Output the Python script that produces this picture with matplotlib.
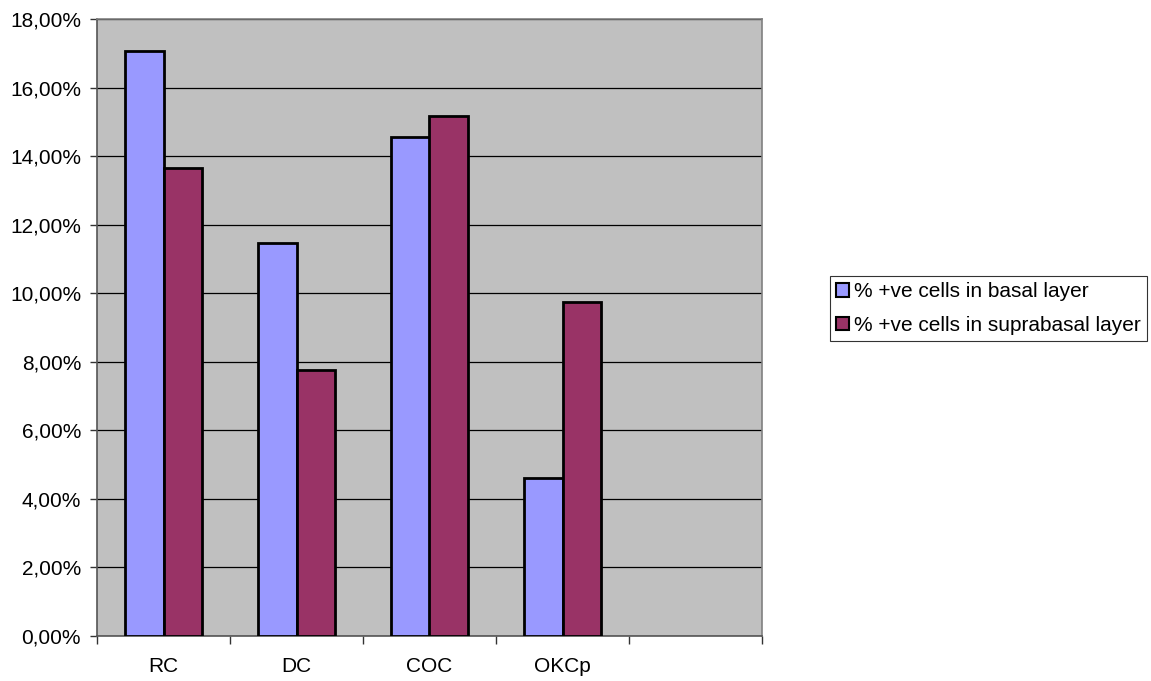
import matplotlib
matplotlib.use("Agg")
import matplotlib.pyplot as plt
import numpy as np
from matplotlib.ticker import FuncFormatter, MultipleLocator, FixedLocator

plt.rcParams['font.family'] = ['Liberation Sans', 'DejaVu Sans']

categories = ["RC", "DC", "COC", "OKCp", ""]
basal = [17.07, 11.46, 14.56, 4.61, np.nan]
suprabasal = [13.65, 7.76, 15.17, 9.74, np.nan]
series_labels = ["% +ve cells in basal layer", "% +ve cells in suprabasal layer"]
colors = ["#9999FF", "#993366"]

fig = plt.figure(figsize=(11.51, 6.81), dpi=100)
ax = fig.add_axes([97/1151, 1-636/681, (762-97)/1151, (636-19)/681])
ax.set_facecolor("#C0C0C0")

x = np.arange(len(categories))
w = 0.286
ax.bar(x - w/2, basal, w, color=colors[0], edgecolor="black", linewidth=2, label=series_labels[0], zorder=3)
ax.bar(x + w/2, suprabasal, w, color=colors[1], edgecolor="black", linewidth=2, label=series_labels[1], zorder=3)

ax.set_xlim(-0.5, len(categories) - 0.5)
ax.set_ylim(0, 18)
ax.yaxis.set_major_locator(MultipleLocator(2))
ax.yaxis.set_major_formatter(FuncFormatter(lambda v, p: f"{v:.2f}%".replace(".", ",")))
ax.grid(axis="y", color="black", linewidth=0.9, zorder=1)
ax.set_axisbelow(True)

ax.xaxis.set_major_locator(FixedLocator(np.arange(-0.5, len(categories), 1.0)))
ax.xaxis.set_major_formatter(FuncFormatter(lambda v, p: ""))
ax.set_xticks(x, minor=True)
ax.set_xticklabels(categories, minor=True)
ax.tick_params(axis="x", which="minor", length=0, pad=15, labelsize=15)
ax.tick_params(axis="x", which="major", length=6, width=1, color="#333333", direction="out")
ax.tick_params(axis="y", length=5, width=1, color="#333333", direction="out", labelsize=15, pad=6.5)

for s in ["left", "bottom"]:
    ax.spines[s].set_color("#555555")
    ax.spines[s].set_linewidth(1.2)
for s in ["top", "right"]:
    ax.spines[s].set_color("#808080")
    ax.spines[s].set_linewidth(1.2)

leg = fig.legend(loc="upper left", bbox_to_anchor=(830/1151, 1-276/681), fontsize=15,
                 frameon=True, fancybox=False, edgecolor="black", handlelength=0.6,
                 handleheight=0.6, handletextpad=0.25, borderpad=0.3, labelspacing=0.7,
                 borderaxespad=0)
leg.get_frame().set_linewidth(0.8)
for h in leg.legend_handles:
    h.set_linewidth(1.5)

fig.savefig("out.png", dpi=100)
